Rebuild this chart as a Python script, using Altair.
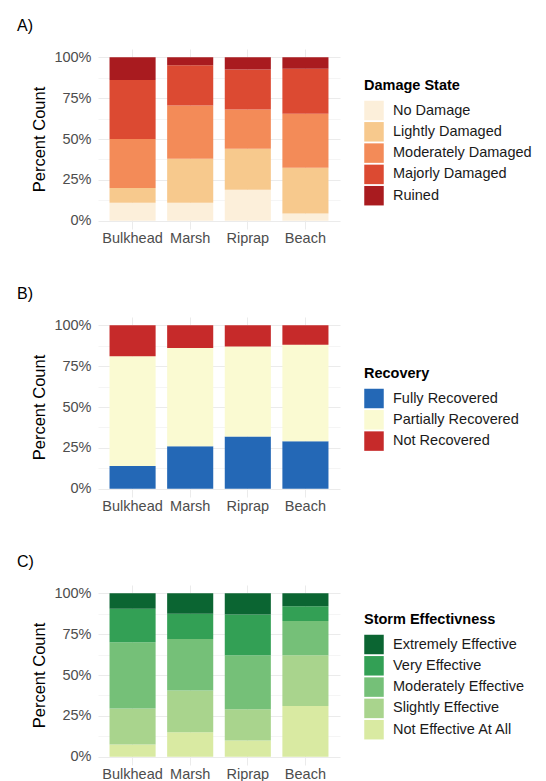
import altair as alt
import pandas as pd

sites = ["Bulkhead", "Marsh", "Riprap", "Beach"]

# Panel A: damage state (percent of count), bottom -> top
damage_states = ["No Damage", "Lightly Damaged", "Moderately Damaged", "Majorly Damaged", "Ruined"]
damage_colors = ["#fcefda", "#f7c98d", "#f38b58", "#dc4a32", "#a91b1f"]
damage_bulkhead = [11, 9, 30, 36, 14]
damage_marsh = [11, 27, 32.5, 24.5, 5]
damage_riprap = [19, 25, 24, 24.5, 7.5]
damage_beach = [4.5, 28, 33, 27.5, 7]

# Panel B: recovery, bottom -> top
recovery_states = ["Fully Recovered", "Partially Recovered", "Not Recovered"]
recovery_colors = ["#2468b6", "#fafad2", "#c62a2a"]
recovery_bulkhead = [14, 67, 19]
recovery_marsh = [26, 60, 14]
recovery_riprap = [32, 55, 13]
recovery_beach = [29, 59, 12]

# Panel C: storm effectiveness, bottom -> top
effect_states = ["Not Effective At All", "Slightly Effective", "Moderately Effective",
                 "Very Effective", "Extremely Effective"]
effect_colors = ["#d9eaa2", "#a9d48d", "#75c078", "#33a055", "#0b6532"]
effect_bulkhead = [7.5, 22, 40.5, 20.5, 9.5]
effect_marsh = [15, 25.5, 31.5, 15.5, 12.5]
effect_riprap = [10, 19, 33, 25, 13]
effect_beach = [31, 31, 21, 9, 8]

y_ticks = [0, 12.5, 25, 37.5, 50, 62.5, 75, 87.5, 100]

FONT = "Liberation Sans"


def build_df(states, series):
    rows = []
    for site, vals in zip(sites, series):
        for i, (st, v) in enumerate(zip(states, vals)):
            rows.append({"site": site, "state": st, "pct": v, "ord": i})
    return pd.DataFrame(rows)


def panel(df, states, colors, legend_order, legend_title, tag, legend_y):
    cmap = dict(zip(states, colors))
    return alt.Chart(df).mark_bar().encode(
        x=alt.X(
            "site:N", sort=sites, title=None,
            scale=alt.Scale(paddingInner=0.2, paddingOuter=0.2),
            axis=alt.Axis(grid=True, bandPosition=0.5, labelAngle=0, labelPadding=2,
                          gridColor="#ebebeb"),
        ),
        y=alt.Y(
            "pct:Q", stack="zero", title="Percent Count",
            scale=alt.Scale(domain=[-5, 105], nice=False, zero=False),
            axis=alt.Axis(
                values=y_ticks,
                labelExpr="datum.value % 25 === 0 ? datum.value + '%' : ''",
                labelPadding=7, titlePadding=6,
                gridColor={"condition": {"test": "datum.value % 25 !== 0", "value": "#f5f5f5"},
                           "value": "#ebebeb"},
            ),
        ),
        color=alt.Color(
            "state:N",
            scale=alt.Scale(domain=legend_order, range=[cmap[s] for s in legend_order]),
            legend=alt.Legend(
                title=legend_title, orient="none", legendX=266, legendY=legend_y,
                symbolType="square", symbolSize=380, symbolStrokeWidth=0,
                labelOffset=9, rowPadding=1.3, titlePadding=7, padding=0,
            ),
        ),
        order=alt.Order("ord:Q"),
    ).properties(
        width=242, height=180,
        title=alt.TitleParams(tag, anchor="start", frame="group", dx=-81, offset=15,
                              fontSize=16, fontWeight="normal", font=FONT, color="#000000"),
    )


df_a = build_df(damage_states, [damage_bulkhead, damage_marsh, damage_riprap, damage_beach])
df_b = build_df(recovery_states, [recovery_bulkhead, recovery_marsh, recovery_riprap, recovery_beach])
df_c = build_df(effect_states, [effect_bulkhead, effect_marsh, effect_riprap, effect_beach])

a = panel(df_a, damage_states, damage_colors, damage_states, "Damage State", "A)", 30)
b = panel(df_b, recovery_states, recovery_colors, recovery_states, "Recovery", "B)", 50)
c = panel(df_c, effect_states, effect_colors, list(reversed(effect_states)),
          "Storm Effectivness", "C)", 28)

chart = alt.vconcat(a, b, c, spacing=41).resolve_scale(color="independent").resolve_legend(
    color="independent"
).properties(
    padding={"left": 9, "top": 10, "right": 5, "bottom": 0},
    background="#ffffff",
).configure_view(stroke=None).configure_axis(
    domain=False, ticks=False, labelFont=FONT, titleFont=FONT, labelFontSize=14.5,
    titleFontSize=16.5, labelColor="#4d4d4d", titleColor="#000000", titleFontWeight="normal",
).configure_legend(
    labelFont=FONT, titleFont=FONT, labelFontSize=14.5, titleFontSize=14.5,
    labelColor="#1a1a1a", titleColor="#000000", titleFontWeight="bold",
)

chart.save("out.html", embed_options={"renderer": "svg", "actions": False})
